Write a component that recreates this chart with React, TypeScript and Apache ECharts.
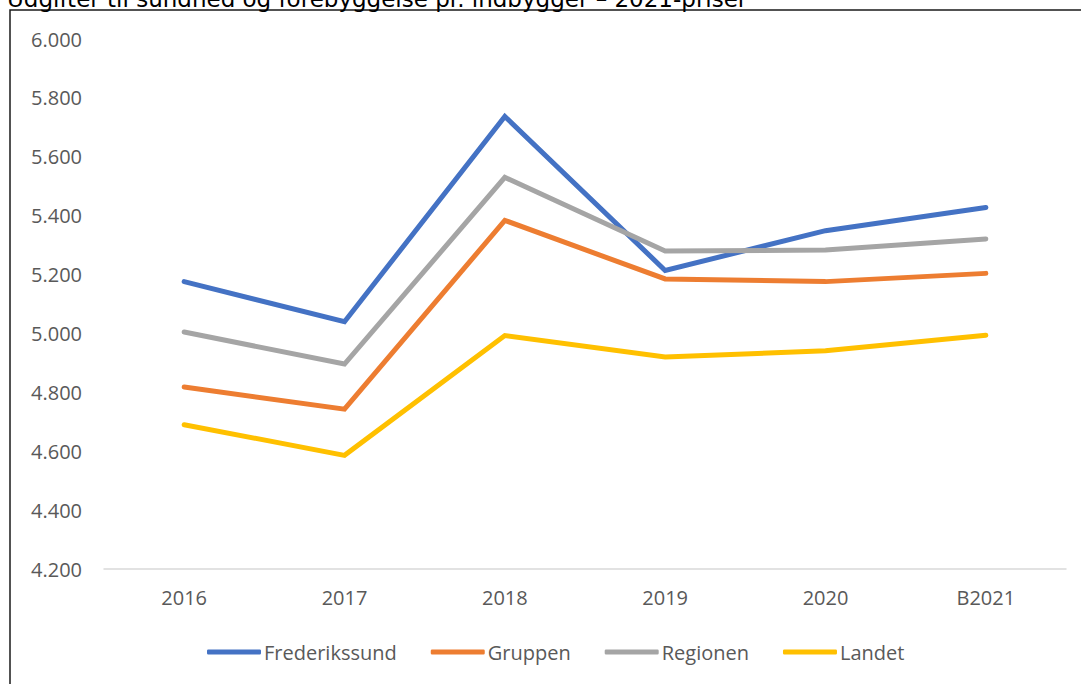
import React, { useEffect, useRef } from "react";
import * as echarts from "echarts";

const categories = ["2016", "2017", "2018", "2019", "2020", "B2021"];
const frederikssund = [5176, 5040, 5737, 5214, 5349, 5428];
const gruppen = [4818, 4743, 5384, 5185, 5176, 5204];
const regionen = [5005, 4896, 5530, 5280, 5283, 5321];
const landet = [4690, 4586, 4993, 4920, 4941, 4994];
const titleText = "Udgifter til sundhed og forebyggelse pr. indbygger – 2021-priser";

const fmt = (v: number) => {
  const t = Math.floor(v / 1000);
  const r = String(Math.round(v % 1000)).padStart(3, "0");
  return t + "." + r;
};

export default function App() {
  const ref = useRef<HTMLDivElement>(null);
  useEffect(() => {
    if (!ref.current) return;
    const chart = echarts.init(ref.current, undefined, { renderer: "svg" });
    const font = "'Open Sans', sans-serif";
    const mk = (name: string, data: number[], color: string) => ({
      name,
      type: "line",
      data,
      symbol: "none",
      lineStyle: { color, width: 5, cap: "round", join: "miter" },
      itemStyle: { color },
    });
    chart.setOption({
      animation: false,
      backgroundColor: "#ffffff",
      grid: { left: 104, right: 15, top: 39, bottom: 115 },
      xAxis: {
        type: "category",
        data: categories,
        boundaryGap: true,
        axisLine: { show: true, lineStyle: { color: "#D9D9D9", width: 1.5 } },
        axisTick: { show: false },
        axisLabel: { color: "#595959", fontSize: 20, fontFamily: font, margin: 18 },
        splitLine: { show: false },
      },
      yAxis: {
        type: "value",
        min: 4200,
        max: 6000,
        interval: 200,
        axisLine: { show: false },
        axisTick: { show: false },
        splitLine: { show: false },
        axisLabel: { color: "#595959", fontSize: 20, fontFamily: font, margin: 22, formatter: fmt },
      },
      legend: {
        left: 202,
        top: 637,
        itemWidth: 54,
        itemHeight: 5,
        itemGap: 34,
        icon: "roundRect",
        textStyle: { color: "#595959", fontSize: 20, fontFamily: font, padding: [0, 0, 0, -2] },
        data: ["Frederikssund", "Gruppen", "Regionen", "Landet"],
      },
      graphic: [
        {
          type: "rect",
          shape: { x: 10, y: 10, width: 1200, height: 800 },
          style: { fill: "none", stroke: "#1a1a1a", lineWidth: 1.5 },
          silent: true,
        },
        {
          type: "text",
          x: 7,
          y: 10,
          style: {
            text: titleText,
            fill: "#000000",
            font: "23px 'DejaVu Sans', sans-serif",
            verticalAlign: "bottom",
          },
        },
      ],
      series: [
        mk("Frederikssund", frederikssund, "#4472C4"),
        mk("Gruppen", gruppen, "#ED7D31"),
        mk("Regionen", regionen, "#A5A5A5"),
        mk("Landet", landet, "#FFC000"),
      ],
    });
    return () => chart.dispose();
  }, []);
  return (
    <div
      ref={ref}
      style={{ position: "fixed", left: 0, top: 0, width: 1081, height: 684, background: "#fff" }}
    />
  );
}
